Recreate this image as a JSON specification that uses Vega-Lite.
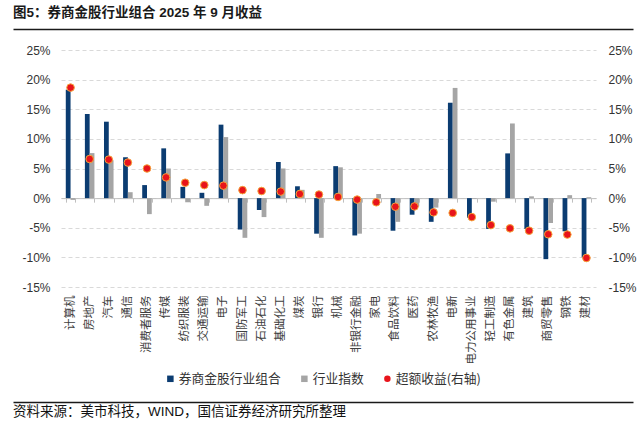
{
  "$schema": "https://vega.github.io/schema/vega-lite/v6.json",
  "background": "white",
  "padding": {"left": 10, "top": 6, "right": 5, "bottom": 3},
  "config": {"view": {"stroke": null}, "font": "Noto Sans CJK SC"},
  "columns": 1,
  "spacing": 12,
  "concat": [
    {
      "width": 620,
      "height": 1,
      "title": {"text": "图5：券商金股行业组合 2025 年 9 月收益", "anchor": "start", "frame": "group", "font": "Liberation Sans, Noto Sans CJK SC", "fontSize": 13.5, "fontWeight": "bold", "color": "#1a1a1a", "offset": 6},
      "data": {"values": [{"v": 0}]},
      "mark": {"type": "point", "opacity": 0},
      "encoding": {
        "x": {"field": "v", "type": "quantitative", "scale": {"domain": [0, 1]},
          "axis": {"orient": "bottom", "title": null, "labels": false, "ticks": false, "grid": false,
            "domain": true, "domainColor": "#1a1a1a", "domainWidth": 1.3}}
      }
    },
    {
      "width": 620,
      "height": 237,
      "data": {"values": [
        {"industry": "计算机", "series": "券商金股行业组合", "value": 18.3},
        {"industry": "计算机", "series": "行业指数", "value": -0.3},
        {"industry": "计算机", "series": "超额收益(右轴)", "value": 18.65},
        {"industry": "房地产", "series": "券商金股行业组合", "value": 14.2},
        {"industry": "房地产", "series": "行业指数", "value": 7.6},
        {"industry": "房地产", "series": "超额收益(右轴)", "value": 6.6},
        {"industry": "汽车", "series": "券商金股行业组合", "value": 12.9},
        {"industry": "汽车", "series": "行业指数", "value": 6.4},
        {"industry": "汽车", "series": "超额收益(右轴)", "value": 6.5},
        {"industry": "通信", "series": "券商金股行业组合", "value": 6.9},
        {"industry": "通信", "series": "行业指数", "value": 1.0},
        {"industry": "通信", "series": "超额收益(右轴)", "value": 6.0},
        {"industry": "消费者服务", "series": "券商金股行业组合", "value": 2.2},
        {"industry": "消费者服务", "series": "行业指数", "value": -2.7},
        {"industry": "消费者服务", "series": "超额收益(右轴)", "value": 5.0},
        {"industry": "传媒", "series": "券商金股行业组合", "value": 8.4},
        {"industry": "传媒", "series": "行业指数", "value": 5.0},
        {"industry": "传媒", "series": "超额收益(右轴)", "value": 3.5},
        {"industry": "纺织服装", "series": "券商金股行业组合", "value": 1.9},
        {"industry": "纺织服装", "series": "行业指数", "value": -0.7},
        {"industry": "纺织服装", "series": "超额收益(右轴)", "value": 2.6},
        {"industry": "交通运输", "series": "券商金股行业组合", "value": 0.9},
        {"industry": "交通运输", "series": "行业指数", "value": -1.3},
        {"industry": "交通运输", "series": "超额收益(右轴)", "value": 2.2},
        {"industry": "电子", "series": "券商金股行业组合", "value": 12.4},
        {"industry": "电子", "series": "行业指数", "value": 10.3},
        {"industry": "电子", "series": "超额收益(右轴)", "value": 2.1},
        {"industry": "国防军工", "series": "券商金股行业组合", "value": -5.3},
        {"industry": "国防军工", "series": "行业指数", "value": -6.7},
        {"industry": "国防军工", "series": "超额收益(右轴)", "value": 1.35},
        {"industry": "石油石化", "series": "券商金股行业组合", "value": -2.0},
        {"industry": "石油石化", "series": "行业指数", "value": -3.2},
        {"industry": "石油石化", "series": "超额收益(右轴)", "value": 1.2},
        {"industry": "基础化工", "series": "券商金股行业组合", "value": 6.1},
        {"industry": "基础化工", "series": "行业指数", "value": 5.0},
        {"industry": "基础化工", "series": "超额收益(右轴)", "value": 1.1},
        {"industry": "煤炭", "series": "券商金股行业组合", "value": 2.0},
        {"industry": "煤炭", "series": "行业指数", "value": 1.4},
        {"industry": "煤炭", "series": "超额收益(右轴)", "value": 0.7},
        {"industry": "银行", "series": "券商金股行业组合", "value": -6.0},
        {"industry": "银行", "series": "行业指数", "value": -6.7},
        {"industry": "银行", "series": "超额收益(右轴)", "value": 0.6},
        {"industry": "机械", "series": "券商金股行业组合", "value": 5.4},
        {"industry": "机械", "series": "行业指数", "value": 5.2},
        {"industry": "机械", "series": "超额收益(右轴)", "value": 0.2},
        {"industry": "非银行金融", "series": "券商金股行业组合", "value": -6.3},
        {"industry": "非银行金融", "series": "行业指数", "value": -6.0},
        {"industry": "非银行金融", "series": "超额收益(右轴)", "value": -0.25},
        {"industry": "家电", "series": "券商金股行业组合", "value": 0.0},
        {"industry": "家电", "series": "行业指数", "value": 0.7},
        {"industry": "家电", "series": "超额收益(右轴)", "value": -0.7},
        {"industry": "食品饮料", "series": "券商金股行业组合", "value": -5.5},
        {"industry": "食品饮料", "series": "行业指数", "value": -4.0},
        {"industry": "食品饮料", "series": "超额收益(右轴)", "value": -1.45},
        {"industry": "医药", "series": "券商金股行业组合", "value": -2.8},
        {"industry": "医药", "series": "行业指数", "value": -1.4},
        {"industry": "医药", "series": "超额收益(右轴)", "value": -1.4},
        {"industry": "农林牧渔", "series": "券商金股行业组合", "value": -4.0},
        {"industry": "农林牧渔", "series": "行业指数", "value": -1.6},
        {"industry": "农林牧渔", "series": "超额收益(右轴)", "value": -2.4},
        {"industry": "电新", "series": "券商金股行业组合", "value": 16.1},
        {"industry": "电新", "series": "行业指数", "value": 18.6},
        {"industry": "电新", "series": "超额收益(右轴)", "value": -2.5},
        {"industry": "电力公用事业", "series": "券商金股行业组合", "value": -3.3},
        {"industry": "电力公用事业", "series": "行业指数", "value": -0.1},
        {"industry": "电力公用事业", "series": "超额收益(右轴)", "value": -3.2},
        {"industry": "轻工制造", "series": "券商金股行业组合", "value": -5.2},
        {"industry": "轻工制造", "series": "行业指数", "value": -0.6},
        {"industry": "轻工制造", "series": "超额收益(右轴)", "value": -4.55},
        {"industry": "有色金属", "series": "券商金股行业组合", "value": 7.55},
        {"industry": "有色金属", "series": "行业指数", "value": 12.6},
        {"industry": "有色金属", "series": "超额收益(右轴)", "value": -5.1},
        {"industry": "建筑", "series": "券商金股行业组合", "value": -5.2},
        {"industry": "建筑", "series": "行业指数", "value": 0.3},
        {"industry": "建筑", "series": "超额收益(右轴)", "value": -5.5},
        {"industry": "商贸零售", "series": "券商金股行业组合", "value": -10.3},
        {"industry": "商贸零售", "series": "行业指数", "value": -4.2},
        {"industry": "商贸零售", "series": "超额收益(右轴)", "value": -6.1},
        {"industry": "钢铁", "series": "券商金股行业组合", "value": -5.6},
        {"industry": "钢铁", "series": "行业指数", "value": 0.5},
        {"industry": "钢铁", "series": "超额收益(右轴)", "value": -6.15},
        {"industry": "建材", "series": "券商金股行业组合", "value": -10.0},
        {"industry": "建材", "series": "行业指数", "value": 0.15},
        {"industry": "建材", "series": "超额收益(右轴)", "value": -10.1}
      ]},
      "layer": [
        {
          "transform": [{"filter": "datum.series !== '超额收益(右轴)'"}],
          "mark": {"type": "bar"},
          "encoding": {
            "x": {"field": "industry", "type": "nominal", "sort": null,
              "scale": {"range": [48, 583], "paddingInner": 0.5, "paddingOuter": 0.25},
              "axis": {"orient": "bottom", "title": " ", "titleFontSize": 10, "titlePadding": 13, "domain": false, "ticks": false, "grid": false,
                "labelAngle": -90, "labelPadding": 8, "labelFont": "Noto Sans CJK SC", "labelFontSize": 11.5, "labelColor": "#404040"}},
            "xOffset": {"field": "series", "type": "nominal", "sort": ["券商金股行业组合", "行业指数"],
              "scale": {"paddingInner": 0, "paddingOuter": 0}},
            "y": {"field": "value", "type": "quantitative",
              "scale": {"domain": [-15, 25], "nice": false, "zero": false},
              "axis": {"orient": "left", "offset": -48, "minExtent": 0, "title": null, "values": [-15, -10, -5, 0, 5, 10, 15, 20, 25],
                "labelExpr": "datum.value + '%'", "domain": false, "ticks": false,
                "grid": true, "gridColor": "#d9d9d9", "gridDash": [4, 3], "gridWidth": 1,
                "labelPadding": 11, "labelFont": "Liberation Sans", "labelFontSize": 12, "labelColor": "#333333"}},
            "color": {"field": "series", "type": "nominal",
              "scale": {"domain": ["券商金股行业组合", "行业指数", "超额收益(右轴)"], "range": ["#0b3c71", "#a5a5a5", "#e8141b"]},
              "legend": {"orient": "none", "legendX": 146, "legendY": 339, "padding": 5, "direction": "horizontal", "title": null,
                "labelFont": "Noto Sans CJK SC", "labelFontSize": 12.75, "labelColor": "#333333",
                "symbolSize": 42, "symbolStrokeWidth": 0, "columnPadding": 17, "labelOffset": 2}}
          }
        },
        {
          "transform": [{"filter": "datum.series === '超额收益(右轴)'"}],
          "mark": {"type": "point", "filled": true, "size": 58, "opacity": 1, "stroke": "#f6a33a", "strokeWidth": 1},
          "encoding": {
            "x": {"field": "industry", "type": "nominal", "sort": null,
              "scale": {"range": [48, 583], "paddingInner": 0.5, "paddingOuter": 0.25},
              "axis": {"orient": "bottom", "title": null, "labels": false, "grid": false, "offset": -88.875,
                "domain": true, "domainColor": "#bfbfbf", "domainWidth": 1,
                "ticks": true, "tickBand": "extent", "tickColor": "#bfbfbf", "tickSize": 4}},
            "y": {"field": "value", "type": "quantitative",
              "scale": {"domain": [-15, 25], "nice": false, "zero": false},
              "axis": {"orient": "right", "offset": -37, "minExtent": 0, "title": null, "values": [-15, -10, -5, 0, 5, 10, 15, 20, 25],
                "labelExpr": "datum.value + '%'", "domain": false, "ticks": false, "grid": false,
                "labelPadding": 12, "labelFont": "Liberation Sans", "labelFontSize": 12, "labelColor": "#333333"}},
            "color": {"field": "series", "type": "nominal"},
            "shape": {"field": "series", "type": "nominal",
              "scale": {"domain": ["券商金股行业组合", "行业指数", "超额收益(右轴)"], "range": ["square", "square", "circle"]}}
          }
        }
      ],
      "resolve": {"scale": {"y": "independent"}, "axis": {"x": "independent"}}
    },
    {
      "width": 620,
      "height": 1,
      "title": {"text": "资料来源：美市科技，WIND，国信证券经济研究所整理", "orient": "bottom", "anchor": "start", "frame": "group", "font": "Liberation Sans, Noto Sans CJK SC", "fontSize": 13.5, "fontWeight": "normal", "color": "#111111", "offset": 0},
      "data": {"values": [{"v": 0}]},
      "mark": {"type": "point", "opacity": 0},
      "encoding": {
        "x": {"field": "v", "type": "quantitative", "scale": {"domain": [0, 1]},
          "axis": {"orient": "top", "title": null, "labels": false, "ticks": false, "grid": false,
            "domain": true, "domainColor": "#1a1a1a", "domainWidth": 1.3}}
      }
    }
  ]
}
